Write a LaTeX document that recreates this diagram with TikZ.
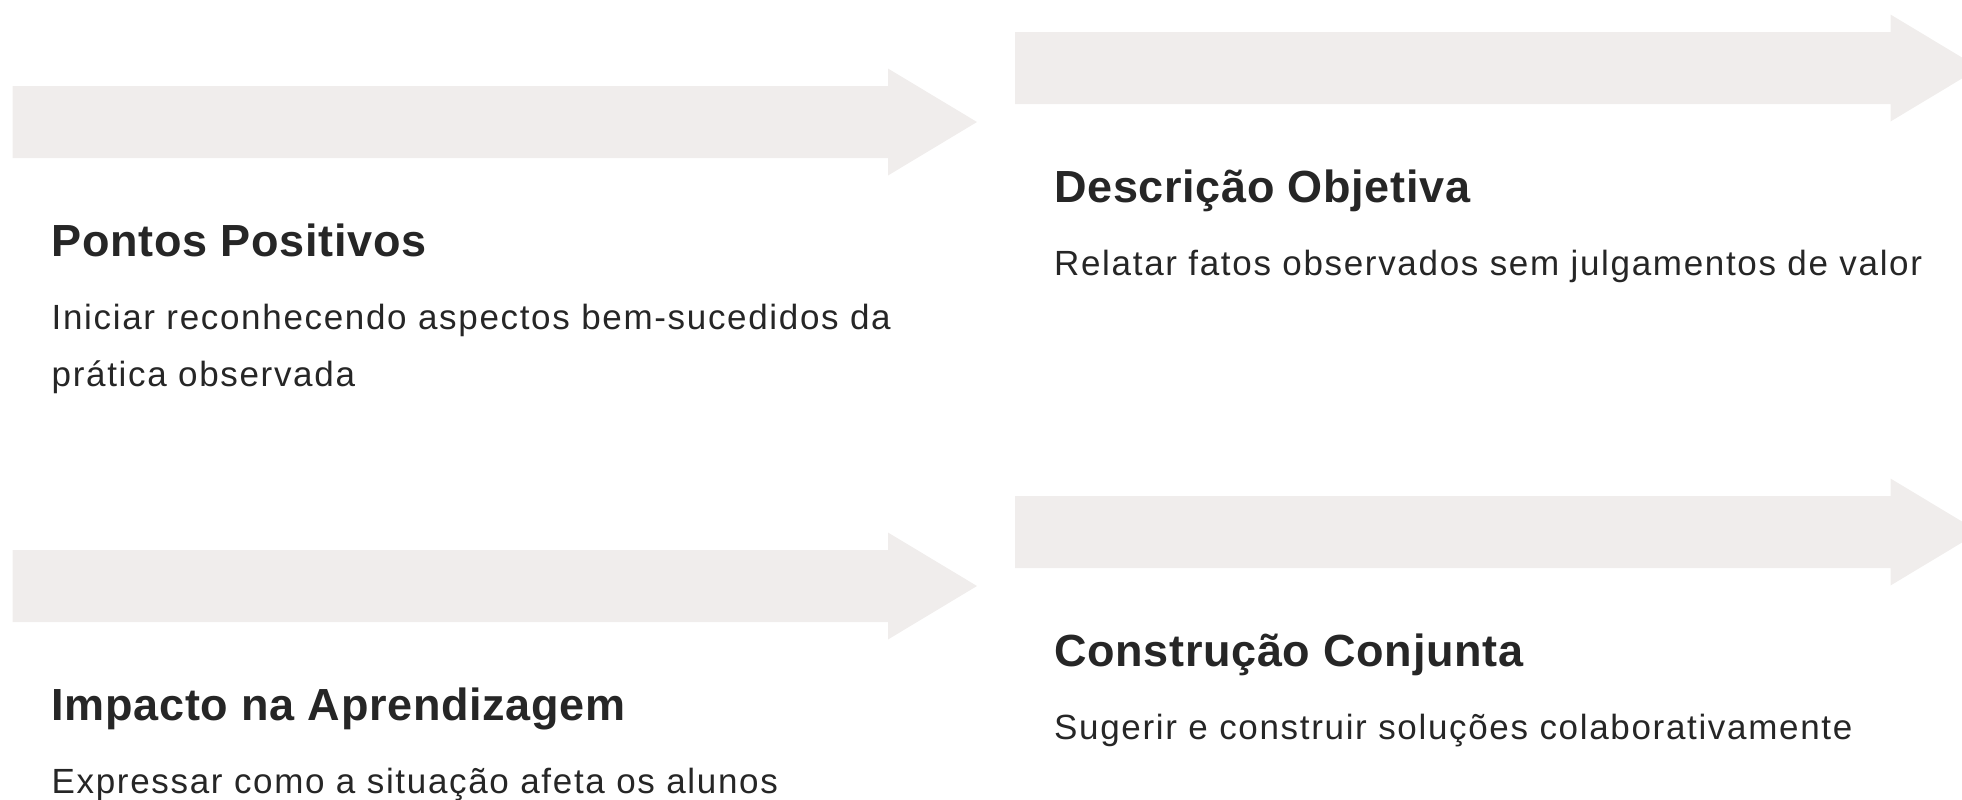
\documentclass[tikz,border=0pt]{standalone}
\usepackage{fontspec}
\setmainfont{Liberation Sans}
\newfontfamily\titlefont{Liberation Sans}[LetterSpace=1.5]
\newfontfamily\bodyfont{Liberation Sans}[LetterSpace=4.8]
\usepackage{tikz}
\usetikzlibrary{positioning}

\definecolor{arrowgray}{HTML}{F0EDEC}
\definecolor{inkdark}{HTML}{262626}

\begin{document}
\begin{tikzpicture}[x=0.01cm, y=-0.01cm,
  every node/.style={inner sep=0pt, text=inkdark},
  cardtitle/.style={font={\titlefont\fontsize{12.8pt}{15pt}\selectfont\bfseries}},
  cardbody/.style={font={\bodyfont\fontsize{9.95pt}{16.2pt}\selectfont}, align=left}]
  %----- frame -----
  \useasboundingbox (0,0) rectangle (1962,799);
  \clip (0,0) rectangle (1962,799);
  %----- one card: arrow + title + text -----
  \def\card#1#2#3#4#5{ % (name, arrow left x, arrow middle y, title, text)
    \fill[arrowgray] (#2,#3-36) -- (#2+875.5,#3-36) -- (#2+875.5,#3-53.5)
      -- (#2+964.5,#3) -- (#2+875.5,#3+53.5) -- (#2+875.5,#3+36)
      -- (#2,#3+36) -- cycle;
    \node[cardtitle, anchor=base west] (#1-title) at (#2+38.5,#3+134) {#4};
    % text: top of the strut sits 39.9 above the first baseline
    \node[cardbody, anchor=north west] (#1-text) at (#2+38.5,#3+167.1) {\strut #5};
  }
  %----- left column -----
  \card{pos}{12.5}{122}{Pontos Positivos}{Iniciar reconhecendo aspectos bem-sucedidos da\\prática observada}
  \card{imp}{12.5}{586}{Impacto na Aprendizagem}{Expressar como a situação afeta os alunos}
  %----- right column -----
  \card{desc}{1015}{68}{Descrição Objetiva}{Relatar fatos observados sem julgamentos de valor}
  \card{cons}{1015}{532}{Construção Conjunta}{Sugerir e construir soluções colaborativamente}
\end{tikzpicture}
\end{document}
